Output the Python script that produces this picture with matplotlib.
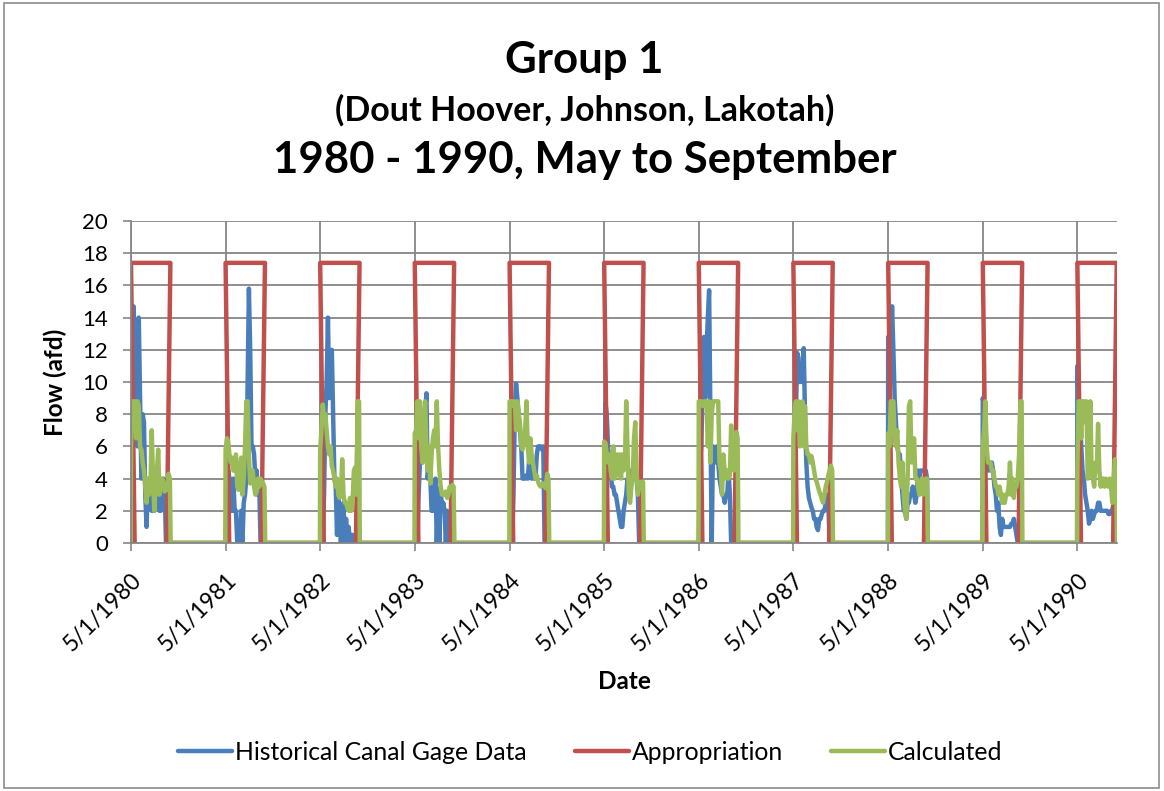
import datetime as dt
import matplotlib
matplotlib.use("Agg")
import matplotlib.pyplot as plt
from matplotlib.patches import Rectangle

plt.rcParams['font.family'] = ['Lato', 'DejaVu Sans']

years = list(range(1980, 1991))
# sample days counted from May 1 of each season
day_offsets = list(range(0, 151, 5))

# Historical Canal Gage Data (afd), one list per season
hist_1980 = [5.0, 10.0, 14.7, 12.0, 8.0, 6.0, 14.0, 9.0, 4.0, 8.0, 7.5, 3.0, 1.0, 3.5, 4.0, 2.5,
             2.0, 3.0, 2.0, 3.5, 3.0, 2.5, 2.0, 2.0, 3.8, 4.0, 3.5, 0, 0, 0, 0]
hist_1981 = [0, 4.0, 4.5, 4.0, 2.0, 2.0, 4.0, 2.0, 2.0, 0.0, 0.5, 0.0, 2.0, 0.0, 2.5, 3.0,
             4.0, 10.0, 15.8, 12.0, 6.0, 6.0, 5.5, 4.0, 4.5, 3.0, 3.5, 0, 0, 0, 0]
hist_1982 = [0, 0, 0, 3.0, 8.0, 10.0, 14.0, 9.0, 10.0, 12.0, 8.0, 4.0, 3.5, 0.5, 3.0, 2.0,
             0.0, 2.0, 2.5, 0.0, 1.5, 0.0, 1.0, 0.0, 0.5, 0.5, 0.0, 0.5, 0, 0, 0]
hist_1983 = [0, 0, 0, 3.0, 5.0, 6.0, 5.0, 6.5, 8.0, 9.3, 4.0, 5.0, 4.0, 2.0, 2.0, 2.5,
             4.0, 0.0, 3.0, 0.0, 3.5, 2.0, 2.5, 2.0, 0.0, 2.0, 0.0, 0, 0, 0, 0]
hist_1984 = [0, 0, 0, 3.0, 8.0, 9.9, 9.0, 8.0, 7.0, 6.0, 4.0, 4.0, 4.0, 4.2, 4.0, 5.0,
             4.5, 4.0, 4.5, 4.0, 4.0, 5.5, 6.0, 6.0, 6.0, 5.8, 6.0, 0, 0, 0, 0]
hist_1985 = [0, 8.7, 8.0, 6.0, 5.0, 4.5, 3.5, 3.5, 3.0, 3.0, 2.5, 2.0, 1.5, 1.0, 1.0, 2.0,
             2.5, 3.0, 4.0, 3.5, 4.0, 4.5, 4.5, 4.0, 4.0, 4.0, 3.0, 0, 0, 0, 0]
hist_1986 = [0, 5.0, 6.0, 10.0, 12.8, 9.0, 12.0, 14.0, 15.7, 8.0, 0.0, 6.0, 5.5, 5.0, 6.0, 5.0,
             4.0, 3.5, 3.0, 3.0, 2.5, 3.0, 3.0, 4.5, 3.0, 0.0, 0, 0, 0, 0, 0]
hist_1987 = [0, 5.0, 8.0, 11.8, 11.5, 10.0, 11.0, 10.0, 12.1, 8.0, 5.0, 3.5, 2.8, 2.5, 2.2, 2.0,
             1.5, 1.5, 1.0, 0.8, 1.5, 1.5, 1.8, 2.0, 2.0, 2.5, 3.0, 2.5, 0, 0, 0]
hist_1988 = [12.8, 10.0, 12.0, 14.7, 12.0, 9.0, 7.5, 6.0, 5.5, 5.5, 4.0, 3.0, 2.0, 2.0, 1.5, 2.5,
             2.5, 3.0, 3.0, 3.5, 3.0, 2.5, 3.0, 4.5, 4.0, 4.5, 4.5, 4.5, 4.5, 4.5, 4.0]
hist_1989 = [9.0, 8.5, 7.5, 5.5, 4.5, 5.0, 4.5, 5.0, 4.5, 3.5, 3.0, 2.0, 2.5, 1.0, 0.5, 1.5,
             1.0, 1.0, 1.0, 1.0, 1.0, 1.0, 1.2, 1.2, 1.5, 1.0, 0.5, 0, 0, 0, 0]
hist_1990 = [11.0, 9.0, 8.0, 6.0, 4.5, 4.0, 3.0, 2.5, 2.0, 1.2, 1.5, 2.0, 1.5, 1.8, 2.0, 2.0,
             2.5, 2.5, 2.0, 2.0, 2.0, 2.0, 2.0, 2.0, 1.8, 1.8, 2.0, 2.0, 2.5, 3.0, 3.0]

# Calculated (afd)
calc_1980 = [6.0, 8.8, 8.8, 8.8, 6.5, 8.8, 8.5, 6.0, 5.8, 5.0, 4.5, 3.5, 2.5, 4.0, 3.0, 3.5,
             7.0, 4.0, 2.0, 3.5, 4.5, 5.8, 3.0, 3.5, 4.0, 3.8, 3.2, 3.5, 3.3, 4.3, 4.0]
calc_1981 = [5.8, 6.5, 6.3, 5.5, 5.0, 5.3, 4.5, 4.5, 5.5, 3.5, 3.3, 4.5, 5.3, 3.0, 4.0, 6.0,
             8.8, 8.8, 5.5, 3.7, 4.0, 4.5, 3.5, 3.0, 3.2, 4.0, 3.5, 4.0, 3.8, 3.7, 3.5]
calc_1982 = [5.8, 7.0, 8.6, 7.8, 8.0, 7.0, 6.0, 5.5, 6.0, 4.8, 4.5, 4.0, 3.5, 4.0, 3.0, 2.8,
             3.0, 5.2, 3.0, 2.5, 2.5, 2.2, 2.0, 2.8, 2.0, 2.5, 4.5, 4.7, 3.0, 8.8, 8.8]
calc_1983 = [6.8, 7.0, 8.8, 6.5, 8.8, 6.0, 5.0, 7.5, 8.8, 6.0, 4.5, 6.0, 3.7, 5.5, 6.5, 7.0,
             6.0, 8.8, 6.0, 4.5, 3.5, 3.0, 3.0, 3.0, 3.2, 2.8, 3.0, 3.5, 3.3, 3.6, 3.5]
calc_1984 = [8.8, 8.8, 8.8, 8.5, 8.8, 7.0, 8.8, 8.0, 7.5, 6.0, 5.8, 6.5, 7.0, 8.8, 6.0, 5.0,
             6.5, 5.5, 5.0, 4.5, 4.0, 4.2, 3.8, 3.6, 3.5, 3.6, 3.7, 3.5, 3.4, 4.3, 4.0]
calc_1985 = [6.3, 6.2, 5.5, 5.0, 5.5, 4.5, 4.0, 6.0, 4.0, 5.0, 5.5, 4.2, 5.5, 4.0, 5.5, 4.5,
             4.8, 8.8, 6.0, 3.0, 2.5, 3.5, 4.0, 6.5, 7.5, 4.5, 3.0, 3.5, 3.8, 3.8, 3.8]
calc_1986 = [8.8, 8.8, 8.8, 8.5, 8.8, 8.8, 8.8, 6.0, 8.8, 5.0, 8.0, 8.8, 8.8, 8.8, 8.8, 8.8,
             5.0, 4.5, 3.0, 5.5, 4.5, 4.0, 4.5, 4.0, 4.2, 7.3, 5.0, 4.5, 5.0, 6.9, 6.5]
calc_1987 = [6.5, 8.2, 8.8, 7.0, 8.8, 6.0, 6.5, 8.8, 6.0, 8.5, 6.0, 5.5, 5.5, 5.0, 5.4, 5.0,
             4.5, 4.0, 3.8, 3.5, 3.2, 3.0, 2.7, 2.5, 3.0, 3.5, 3.8, 4.2, 4.5, 4.8, 4.5]
calc_1988 = [6.8, 6.0, 8.8, 8.8, 8.8, 6.5, 6.0, 7.0, 5.0, 4.0, 3.5, 5.0, 3.0, 2.0, 1.5, 4.0,
             8.5, 8.8, 5.0, 5.5, 6.5, 4.0, 4.0, 3.5, 3.0, 3.5, 4.0, 3.0, 3.5, 4.0, 4.0]
calc_1989 = [6.0, 7.0, 8.8, 6.0, 5.0, 5.0, 5.0, 4.5, 4.5, 4.0, 3.5, 3.5, 3.0, 3.5, 3.0, 2.5,
             3.0, 2.5, 3.0, 3.0, 3.5, 5.0, 3.0, 4.0, 2.8, 3.5, 3.5, 4.0, 5.5, 8.8, 8.8]
calc_1990 = [4.5, 8.8, 8.8, 6.5, 8.8, 8.8, 7.5, 8.8, 4.0, 4.5, 8.8, 4.5, 4.0, 3.5, 5.0, 4.5,
             7.4, 4.5, 3.5, 4.0, 4.0, 3.5, 4.0, 3.8, 3.5, 4.0, 3.5, 2.5, 4.0, 5.2, 3.7]

hist_seasons = [hist_1980, hist_1981, hist_1982, hist_1983, hist_1984, hist_1985,
                hist_1986, hist_1987, hist_1988, hist_1989, hist_1990]
calc_seasons = [calc_1980, calc_1981, calc_1982, calc_1983, calc_1984, calc_1985,
                calc_1986, calc_1987, calc_1988, calc_1989, calc_1990]

# Appropriation: 17.4 afd from May 1 to Sep 30, zero points a couple of weeks inside
appropriation = 17.4
appr_zero_after_start = 14
appr_zero_before_end = 14

tick_labels = [f"5/1/{y}" for y in years]


def season_series(seasons):
    xs, ys = [], []
    for yr, vals in zip(years, seasons):
        start = dt.date(yr, 5, 1)
        xs.append(start - dt.timedelta(days=1))
        ys.append(0)
        for d, v in zip(day_offsets, vals):
            xs.append(start + dt.timedelta(days=d))
            ys.append(v)
        xs.append(dt.date(yr, 10, 1))
        ys.append(0)
    return xs, ys


hx, hy = season_series(hist_seasons)
cx, cy = season_series(calc_seasons)

ax_, ay_ = [], []
for yr in years:
    start = dt.date(yr, 5, 1)
    end = dt.date(yr, 9, 30)
    ax_ += [start + dt.timedelta(days=appr_zero_after_start), start, end,
            end - dt.timedelta(days=appr_zero_before_end)]
    ay_ += [0, appropriation, appropriation, 0]

fig = plt.figure(figsize=(11.64, 7.91), dpi=100)
ax = fig.add_axes([131 / 1164, 1 - 543 / 791, (1117 - 131) / 1164, (543 - 221) / 791])

lw = 3.2
kw = dict(solid_joinstyle='round', solid_capstyle='round')
ax.plot(hx, hy, color='#4A7EBB', lw=lw, label='Historical Canal Gage Data', **kw)
ax.plot(ax_, ay_, color='#C0504D', lw=lw, label='Appropriation', **kw)
ax.plot(cx, cy, color='#9BBB59', lw=lw, label='Calculated', **kw)

ax.set_xlim(dt.date(1980, 5, 1), dt.date(1990, 10, 1))
ax.set_ylim(0, 20)
ax.set_yticks(range(0, 21, 2))
ax.set_xticks([dt.date(y, 5, 1) for y in years])
ax.set_xticklabels(tick_labels, rotation=45, ha='right', rotation_mode='anchor', fontsize=16.5)
ax.tick_params(axis='y', labelsize=16, pad=10.5)
ax.tick_params(axis='x', pad=13)
ax.tick_params(direction='out', length=6, width=1.2, color='#868686')

ax.grid(True, color='#868686', lw=1.3)
ax.set_axisbelow(True)
for s in ('top', 'right'):
    ax.spines[s].set_visible(False)
for s in ('left', 'bottom'):
    ax.spines[s].set_color('#868686')
    ax.spines[s].set_linewidth(1.3)

ax.set_ylabel('Flow (afd)', fontsize=17.5, fontweight='bold', labelpad=11)
ax.set_xlabel('Date', fontsize=17.5, fontweight='bold', labelpad=11)

fig.text(0.502, 1 - 60 / 791, 'Group 1', ha='center', va='center', fontsize=31.5, fontweight='bold')
fig.text(0.502, 1 - 110 / 791, '(Dout Hoover, Johnson, Lakotah)', ha='center', va='center',
         fontsize=24.5, fontweight='bold')
fig.text(0.502, 1 - 160 / 791, '1980 - 1990, May to September', ha='center', va='center',
         fontsize=31.5, fontweight='bold')

fig.legend(loc='center', bbox_to_anchor=(0.507, 1 - 752 / 791), ncol=3, frameon=False,
           fontsize=17.8, handlelength=2.2, columnspacing=1.95, handletextpad=0.1)

fig.add_artist(Rectangle((4 / 1164, 1 - 788 / 791), (1159 - 4) / 1164, (788 - 3) / 791,
                         transform=fig.transFigure, fill=False, edgecolor='#8c8c8c', lw=1.2))

fig.savefig('out.png', dpi=100)
